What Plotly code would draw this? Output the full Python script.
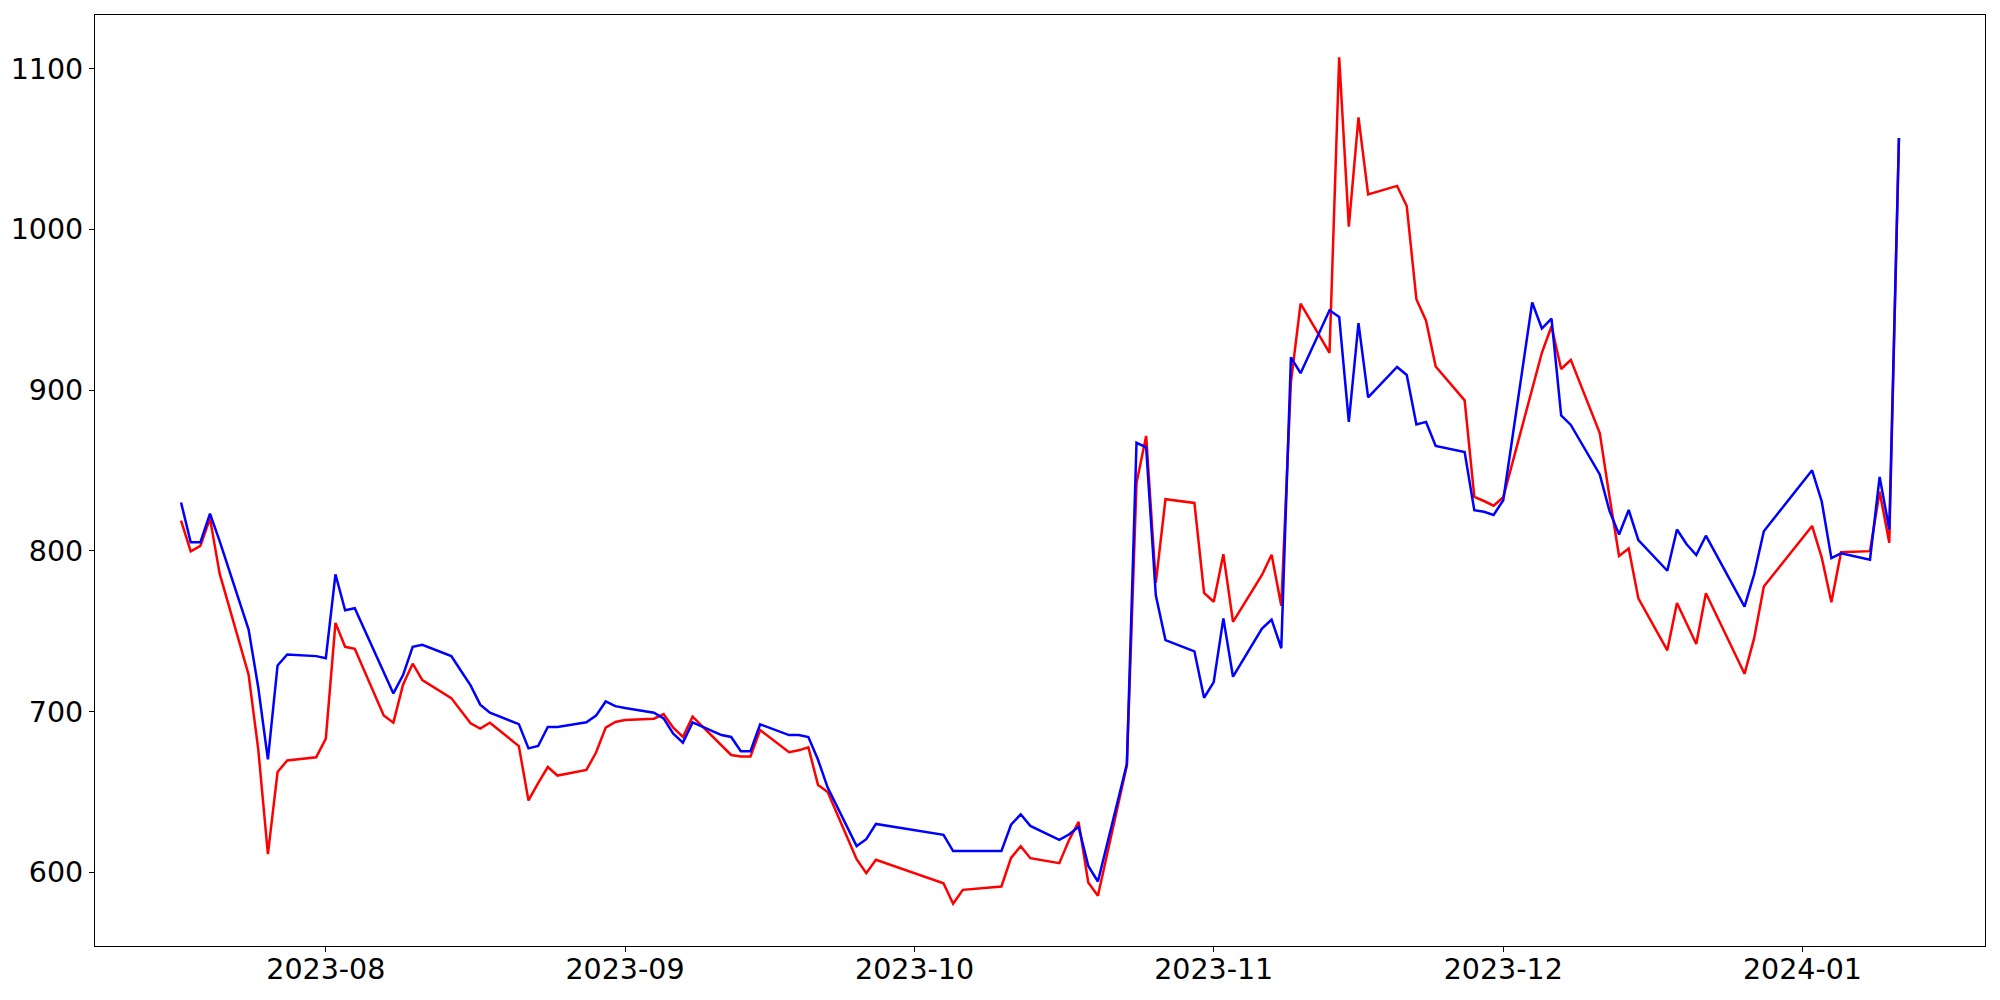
import plotly.graph_objects as go

dates = [
    "2023-07-17", "2023-07-18", "2023-07-19", "2023-07-20", "2023-07-21",
    "2023-07-24", "2023-07-25", "2023-07-26", "2023-07-27", "2023-07-28",
    "2023-07-31", "2023-08-01", "2023-08-02", "2023-08-03", "2023-08-04",
    "2023-08-07", "2023-08-08", "2023-08-09", "2023-08-10", "2023-08-11",
    "2023-08-14", "2023-08-15", "2023-08-16", "2023-08-17", "2023-08-18",
    "2023-08-21", "2023-08-22", "2023-08-23", "2023-08-24", "2023-08-25",
    "2023-08-28", "2023-08-29", "2023-08-30", "2023-08-31", "2023-09-01",
    "2023-09-04", "2023-09-05", "2023-09-06", "2023-09-07", "2023-09-08",
    "2023-09-11", "2023-09-12", "2023-09-13", "2023-09-14", "2023-09-15",
    "2023-09-18", "2023-09-19", "2023-09-20", "2023-09-21", "2023-09-22",
    "2023-09-25", "2023-09-26", "2023-09-27",
    "2023-10-04", "2023-10-05", "2023-10-06",
    "2023-10-10", "2023-10-11", "2023-10-12", "2023-10-13",
    "2023-10-16", "2023-10-17", "2023-10-18", "2023-10-19", "2023-10-20",
    "2023-10-23", "2023-10-24", "2023-10-25", "2023-10-26", "2023-10-27",
    "2023-10-30", "2023-10-31", "2023-11-01", "2023-11-02", "2023-11-03",
    "2023-11-06", "2023-11-07", "2023-11-08", "2023-11-09", "2023-11-10",
    "2023-11-13", "2023-11-14", "2023-11-15", "2023-11-16", "2023-11-17",
    "2023-11-20", "2023-11-21", "2023-11-22", "2023-11-23", "2023-11-24",
    "2023-11-27", "2023-11-28", "2023-11-29", "2023-11-30", "2023-12-01",
    "2023-12-04", "2023-12-05", "2023-12-06", "2023-12-07", "2023-12-08",
    "2023-12-11", "2023-12-12", "2023-12-13", "2023-12-14", "2023-12-15",
    "2023-12-18", "2023-12-19", "2023-12-20", "2023-12-21", "2023-12-22",
    "2023-12-26", "2023-12-27", "2023-12-28",
    "2024-01-02", "2024-01-03", "2024-01-04", "2024-01-05",
    "2024-01-08", "2024-01-09", "2024-01-10", "2024-01-11",
]

red_values = [
    818.8, 799.7, 803.1, 820.2, 785.8,
    722.9, 676.5, 611.3, 662.4, 669.6,
    671.6, 683.2, 755.2, 740.3, 739.1,
    697.6, 693.1, 716.7, 729.8, 719.6,
    708.4, 700.6, 692.7, 689.4, 693.1,
    678.5, 644.7, 655.5, 665.5, 660.2,
    663.7, 674.5, 690.0, 693.5, 694.7,
    695.6, 698.4, 690.0, 684.2, 696.8,
    678.6, 673.0, 672.0, 672.0, 688.5,
    674.7, 675.9, 677.8, 654.3, 650.0,
    608.2, 599.5, 607.8,
    593.2, 580.5, 589.1,
    591.2, 609.0, 616.3, 608.8,
    605.7, 620.0, 631.4, 593.7, 585.4,
    666.5, 842.2, 871.5, 780.0, 832.1,
    829.8, 773.8, 768.3, 797.9, 755.8,
    785.0, 797.6, 765.8, 905.0, 953.8,
    923.2, 1107.0, 1001.7, 1069.6, 1021.7,
    1027.0, 1014.5, 956.5, 943.2, 914.7,
    893.6, 833.6, 831.0, 828.1, 833.3,
    901.8, 923.2, 939.7, 913.1, 918.8,
    873.2, 834.0, 796.8, 801.4, 770.4,
    738.1, 767.5, 754.8, 742.0, 773.6,
    723.5, 745.7, 777.8,
    815.5, 795.8, 768.0, 799.1,
    799.8, 836.8, 805.0, 1056.8,
]

blue_values = [
    830.1, 805.3, 805.3, 823.1, 806.0,
    751.0, 715.0, 670.3, 728.7, 735.5,
    734.5, 733.2, 785.4, 763.0, 764.3,
    725.0, 711.3, 722.7, 740.3, 741.5,
    734.5, 725.4, 716.3, 704.3, 699.3,
    692.2, 677.1, 678.6, 690.4, 690.4,
    693.3, 697.5, 706.3, 703.4, 702.2,
    699.3, 695.8, 686.3, 680.7, 693.3,
    685.4, 684.2, 675.3, 675.3, 692.1,
    685.4, 685.4, 684.2, 670.0, 652.7,
    616.3, 620.6, 630.1,
    623.3, 613.2, 613.2,
    613.2, 629.6, 636.1, 628.9,
    620.2, 623.5, 628.3, 604.0, 594.3,
    667.3, 867.2, 864.4, 772.3, 744.5,
    737.5, 708.6, 718.3, 758.0, 721.7,
    751.6, 757.2, 739.4, 920.4, 910.5,
    949.6, 945.5, 880.2, 941.6, 895.5,
    914.4, 909.4, 878.6, 880.2, 865.3,
    861.4, 825.3, 824.3, 822.3, 831.5,
    954.5, 938.3, 944.5, 884.3, 878.3,
    847.5, 825.0, 810.2, 825.4, 806.6,
    787.6, 813.3, 804.1, 797.4, 809.4,
    765.3, 785.4, 812.2,
    850.1, 830.7, 795.4, 798.4,
    794.5, 846.0, 813.3, 1056.8,
]

assert len(dates) == len(red_values) == len(blue_values)

fig = go.Figure()
fig.add_trace(go.Scatter(x=dates, y=red_values, mode="lines",
                         line=dict(color="#ff0000", width=2.5), name="red"))
fig.add_trace(go.Scatter(x=dates, y=blue_values, mode="lines",
                         line=dict(color="#0000ff", width=2.5), name="blue"))

# matplotlib-like 5% autoscale margins
allv = red_values + blue_values
vmin, vmax = min(allv), max(allv)
pad = (vmax - vmin) * 0.05
yrange = [vmin - pad, vmax + pad]

axis_common = dict(
    showline=True, linecolor="black", linewidth=1.2, mirror=True,
    ticks="outside", ticklen=5, tickwidth=1.2, tickcolor="black",
    showgrid=False, zeroline=False, automargin=False,
    tickfont=dict(family="DejaVu Sans", size=28.5, color="black"),
)

fig.update_layout(
    width=2000, height=1000,
    margin=dict(l=95, r=15, t=15, b=54),
    paper_bgcolor="white", plot_bgcolor="white",
    showlegend=False,
    font=dict(family="DejaVu Sans", size=28.5, color="black"),
    xaxis=dict(type="date", range=["2023-07-08 02:00", "2024-01-19 22:00"],
               tickformat="%Y-%m", dtick="M1", tick0="2023-08-01",
               ticklabelstandoff=-7, **axis_common),
    yaxis=dict(range=yrange, dtick=100, tick0=600, **axis_common),
)

fig.write_html(
    "out.html",
    config={"displayModeBar": False},
    post_script="document.body.style.margin='0';document.body.style.padding='0';",
)
